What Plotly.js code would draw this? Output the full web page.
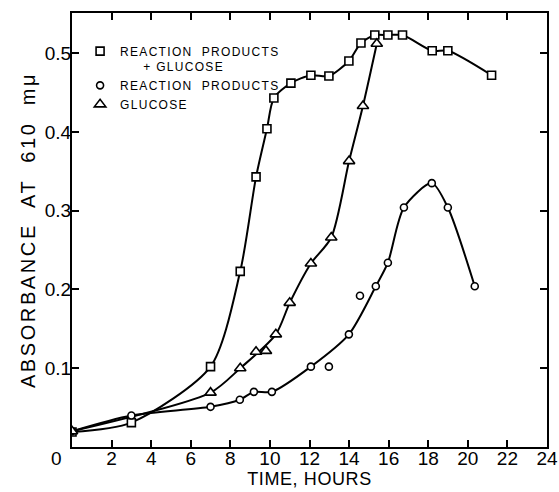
<!DOCTYPE html>
<html>
<head>
<meta charset="utf-8">
<script src="https://cdn.plot.ly/plotly-3.0.1.min.js"></script>
<style>
  html, body { margin: 0; padding: 0; background: #fff; }
  #chart { width: 559px; height: 492px; }
  .legendtext { letter-spacing: 1.3px; }
  .ytitle { letter-spacing: 2.6px; }
  .xtitle { letter-spacing: 0.6px; }
</style>
</head>
<body>
<div id="chart"></div>
<script>
// ---- Data ----
// Reaction products + glucose (open squares)
const sqHours = [0, 3, 7, 8.5, 9.3, 9.85, 10.2, 11.06, 12.07, 12.98, 13.99, 14.6, 15.3, 15.96, 16.7, 18.2, 18.99, 21.2];
const sqAbs   = [0.019, 0.031, 0.102, 0.223, 0.343, 0.404, 0.443, 0.462, 0.472, 0.471, 0.490, 0.513, 0.523, 0.523, 0.523, 0.503, 0.503, 0.472];

// Reaction products (open circles)
const ciHours = [0, 3, 7, 8.48, 9.19, 10.1, 12.07, 12.98, 13.99, 14.55, 15.35, 15.96, 16.77, 18.18, 18.99, 20.35];
const ciAbs   = [0.020, 0.040, 0.051, 0.060, 0.070, 0.070, 0.102, 0.102, 0.143, 0.192, 0.204, 0.234, 0.304, 0.335, 0.304, 0.204];
// points that lie off the drawn smooth curve
const ciOffCurve = [12.98, 14.55];

// Glucose (open triangles)
const trHours = [0, 7.0, 8.5, 9.3, 9.8, 10.3, 11.0, 12.07, 13.1, 14.0, 14.7, 15.4];
const trAbs   = [0.020, 0.069, 0.100, 0.121, 0.122, 0.143, 0.183, 0.233, 0.266, 0.363, 0.433, 0.512];
const trOffCurve = [9.3, 9.8];

// Axis ticks
const xTickVals = [0, 2, 4, 6, 8, 10, 12, 14, 16, 18, 20, 22, 24];
const xTickLabels = ["0", "2", "4", "6", "8", "10", "12", "14", "16", "18", "20", "22", "24"];
const yTickVals = [0.1, 0.2, 0.3, 0.4, 0.5];
const yTickLabels = ["0.1", "0.2", "0.3", "0.4", "0.5"];

const legendNames = [
  "REACTION  PRODUCTS<br>\u00a0\u00a0\u00a0\u00a0\u00a0+ GLUCOSE",
  "REACTION  PRODUCTS",
  "GLUCOSE"
];

// ---- Build traces ----
const FONT = "Liberation Sans, Arial, sans-serif";
const lineStyle = { color: "#000", width: 2, shape: "spline", smoothing: 0.75 };

function curveTrace(x, y, skip) {
  const cx = [], cy = [];
  x.forEach((h, i) => { if (!skip.includes(h)) { cx.push(h); cy.push(y[i]); } });
  return { x: cx, y: cy, mode: "lines", line: lineStyle, showlegend: false, hoverinfo: "skip" };
}
function markerTrace(x, y, symbol, size, name) {
  return {
    x: x, y: y, mode: "markers", name: name,
    marker: { symbol: symbol, size: size, color: "#fff", line: { color: "#000", width: 1.6 } }
  };
}

const traces = [
  curveTrace(sqHours, sqAbs, []),
  curveTrace(ciHours, ciAbs, ciOffCurve),
  curveTrace(trHours, trAbs, trOffCurve),
  markerTrace(sqHours, sqAbs, "square", 8, legendNames[0]),
  markerTrace(ciHours, ciAbs, "circle", 7, legendNames[1]),
  markerTrace(trHours, trAbs, "triangle-up", 10, legendNames[2])
];

const xTickText = xTickLabels.map((s, i) => i === 0 ? s + "\u00a0\u00a0\u00a0\u00a0\u00a0\u00a0" : s);

const layout = {
  width: 559, height: 492,
  margin: { l: 72, r: 12, t: 13, b: 45 },
  paper_bgcolor: "#fff", plot_bgcolor: "#fff",
  font: { family: FONT, color: "#000", size: 19 },
  showlegend: true,
  legend: {
    x: 0.017, y: 0.945, xanchor: "left", yanchor: "top",
    bgcolor: "rgba(0,0,0,0)", borderwidth: 0,
    font: { family: FONT, size: 12, color: "#000" },
    valign: "top", tracegroupgap: 0, itemwidth: 30
  },
  xaxis: {
    range: [0, 24], tickvals: xTickVals, ticktext: xTickText,
    ticks: "inside", ticklen: 7, tickwidth: 2, tickcolor: "#000",
    showline: true, linewidth: 2, linecolor: "#000", mirror: "ticks",
    showgrid: false, zeroline: false, ticklabelstandoff: -7,
    tickfont: { family: FONT, size: 19 },
    title: { text: "TIME, HOURS", font: { family: FONT, size: 18 }, standoff: 2 }
  },
  yaxis: {
    range: [0, 0.551], tickvals: yTickVals, ticktext: yTickLabels,
    ticks: "inside", ticklen: 7, tickwidth: 2, tickcolor: "#000",
    showline: true, linewidth: 2, linecolor: "#000", mirror: "ticks",
    showgrid: false, zeroline: false, ticklabelstandoff: -5,
    tickfont: { family: FONT, size: 19 },
    title: { text: "ABSORBANCE  AT  610  m\u03bc", font: { family: FONT, size: 20 }, standoff: 4 }
  }
};

Plotly.newPlot("chart", traces, layout, { displayModeBar: false, staticPlot: true });
</script>
</body>
</html>
